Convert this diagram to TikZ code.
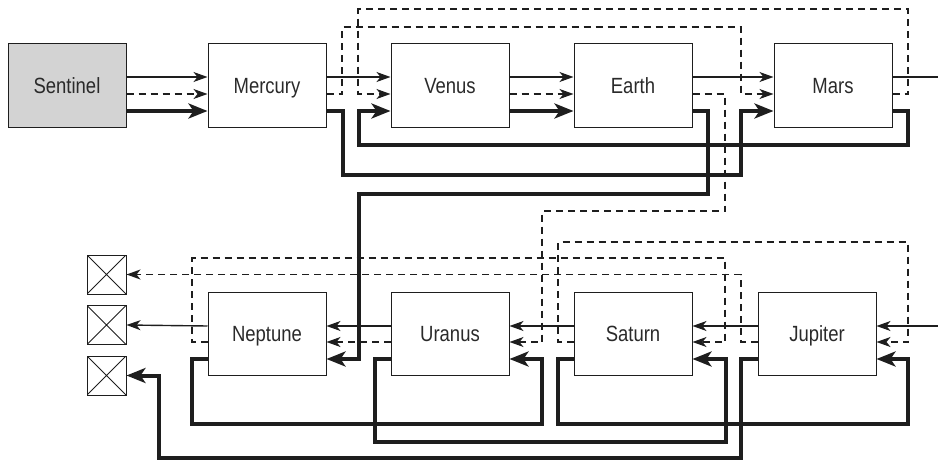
\documentclass[tikz,border=0pt]{standalone}
\usepackage{fontspec}
\setmainfont{Liberation Sans}[FakeStretch=0.84]
\usetikzlibrary{arrows.meta}
\definecolor{linec}{HTML}{1E1E1E}
\definecolor{textc}{HTML}{2A2A2A}
\definecolor{sentc}{HTML}{D3D3D3}
\begin{document}
\begin{tikzpicture}[x=1pt,y=-1pt,
 planet/.style={draw=linec, line width=1pt, minimum width=118pt, minimum height=84pt, inner sep=0pt, text height=16pt, text depth=0pt, font=\fontsize{22}{26}\selectfont, text=textc},
 endbox/.style={draw=linec, line width=1pt, minimum size=39pt, inner sep=0pt,
   path picture={\draw[line width=0.8pt,linec] (path picture bounding box.south west) -- (path picture bounding box.north east) (path picture bounding box.north west) -- (path picture bounding box.south east);}},
 solidline/.style={draw=linec, line width=1.4pt},
 solidarrow/.style={solidline, -{Stealth[length=14pt,width=10pt,inset=4pt]}},
 dasharrow/.style={solidarrow, dash pattern=on 7pt off 5pt},
 heavyarrow/.style={draw=linec, line width=4pt, line join=miter, -{Stealth[length=19pt,width=15pt,inset=5pt]}},
]
\useasboundingbox (0,0) rectangle (938,463);
% row levels
\coordinate (tS) at (0,77);
\coordinate (tD) at (0,94);
\coordinate (tT) at (0,111);
\coordinate (bS) at (0,326);
\coordinate (bD) at (0,342);
\coordinate (bT) at (0,359);
\coordinate (outR) at (938,77);
\coordinate (inR) at (938,326);
% nodes
\node[planet, fill=sentc] (sentinel) at (67,85) {Sentinel};
\node[planet] (mercury) at (267,85) {Mercury};
\node[planet] (venus) at (450,85) {Venus};
\node[planet] (earth) at (633,85) {Earth};
\node[planet] (mars) at (833,85) {Mars};
\node[planet, minimum height=83pt] (neptune) at (267,333.5) {Neptune};
\node[planet, minimum height=83pt] (uranus) at (450,333.5) {Uranus};
\node[planet, minimum height=83pt] (saturn) at (633,333.5) {Saturn};
\node[planet, minimum height=83pt] (jupiter) at (817,333.5) {Jupiter};
\node[endbox] (x1) at (106.5,274.5) {};
\node[endbox] (x2) at (106.5,325) {};
\node[endbox] (x3) at (106.5,375.5) {};
% top solid
\draw[solidarrow] (sentinel.east |- tS) -- (mercury.west |- tS);
\draw[solidarrow] (mercury.east |- tS) -- (venus.west |- tS);
\draw[solidarrow] (venus.east |- tS) -- (earth.west |- tS);
\draw[solidarrow] (earth.east |- tS) -- (mars.west |- tS);
\draw[solidline] (mars.east |- tS) -- (outR);
% top dashed
\draw[dasharrow] (sentinel.east |- tD) -- (mercury.west |- tD);
\draw[dasharrow] (mercury.east |- tD) -- (342,94) -- (342,27) -- (741,27) -- (741,94) -- (mars.west |- tD);
\draw[dasharrow] (mars.east |- tD) -- (908,94) -- (908,9) -- (358,9) -- (358,94) -- (venus.west |- tD);
\draw[dasharrow] (venus.east |- tD) -- (earth.west |- tD);
\draw[dasharrow] (earth.east |- tD) -- (725,94) -- (725,211) -- (542,211) -- (542,342) -- (uranus.east |- bD);
% top thick
\draw[heavyarrow] (sentinel.east |- tT) -- (mercury.west |- tT);
\draw[heavyarrow] (mercury.east |- tT) -- (343,111) -- (343,175) -- (741,175) -- (741,111) -- (mars.west |- tT);
\draw[heavyarrow] (mars.east |- tT) -- (908,111) -- (908,145) -- (359,145) -- (359,111) -- (venus.west |- tT);
\draw[heavyarrow] (venus.east |- tT) -- (earth.west |- tT);
\draw[heavyarrow] (earth.east |- tT) -- (708,111) -- (708,194) -- (359,194) -- (359,359) -- (neptune.east |- bT);
% bottom solid
\draw[solidarrow] (inR) -- (jupiter.east |- bS);
\draw[solidarrow] (jupiter.west |- bS) -- (saturn.east |- bS);
\draw[solidarrow] (saturn.west |- bS) -- (uranus.east |- bS);
\draw[solidarrow] (uranus.west |- bS) -- (neptune.east |- bS);
\draw[solidarrow] (neptune.west |- bS) -- (x2.east);
% bottom dashed
\draw[dasharrow] (saturn.west |- bD) -- (558,342) -- (558,242) -- (908,242) -- (908,342) -- (jupiter.east |- bD);
\draw[dasharrow] (neptune.west |- bD) -- (192,342) -- (192,258) -- (725,258) -- (725,342) -- (saturn.east |- bD);
\draw[dasharrow] (jupiter.west |- bD) -- (741,342) -- (741,274.5) -- (x1.east);
\draw[dasharrow] (uranus.west |- bD) -- (neptune.east |- bD);
% bottom thick
\draw[heavyarrow] (saturn.west |- bT) -- (558,359) -- (558,424) -- (908,424) -- (908,359) -- (jupiter.east |- bT);
\draw[heavyarrow] (uranus.west |- bT) -- (375,359) -- (375,442) -- (726,442) -- (726,359) -- (saturn.east |- bT);
\draw[heavyarrow] (neptune.west |- bT) -- (192,359) -- (192,424) -- (542,424) -- (542,359) -- (uranus.east |- bT);
\draw[heavyarrow] (jupiter.west |- bT) -- (741,359) -- (741,458) -- (159,458) -- (159,375.5) -- (x3.east);
\end{tikzpicture}
\end{document}
